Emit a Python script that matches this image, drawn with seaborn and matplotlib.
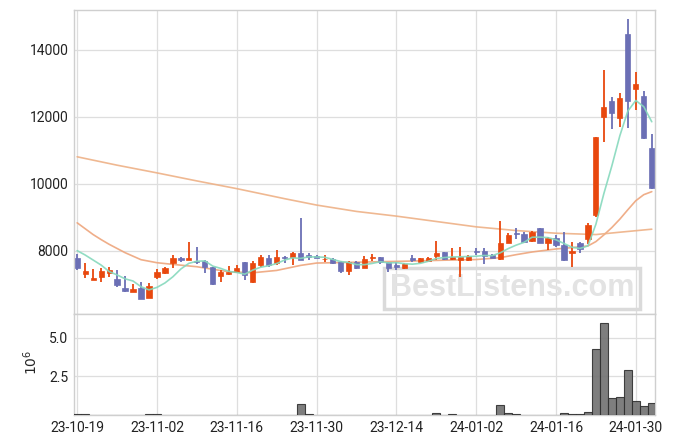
import numpy as np
import pandas as pd
import matplotlib
matplotlib.use("Agg")
import matplotlib.pyplot as plt
import seaborn as sns

# daily OHLC (KRW), 73 trading days 2023-10-19 .. 2024-02-01
opens = [7800, 7310, 7130, 7220, 7330, 7160, 6900, 6770, 6900, 6590,
         7220, 7330, 7630, 7800, 7720, 7700, 7700, 7510, 7260, 7320,
         7380, 7660, 7080, 7580, 7800, 7630, 7830, 7810, 7930, 7880,
         7850, 7750, 7760, 7660, 7410, 7660, 7500, 7780, 7820, 7660,
         7580, 7480, 7790, 7680, 7700, 7850, 7960, 7750, 7730, 7730,
         8010, 8000, 7880, 7750, 8250, 8530, 8510, 8300, 8680, 8230,
         8400, 8190, 7950, 8240, 8360, 9080, 12010, 12480, 11980, 14480,
         12840, 12630, 11070]
highs = [7910, 7630, 7450, 7500, 7530, 7430, 7240, 7010, 7080, 7050,
         7450, 7530, 7880, 7830, 8260, 8110, 7720, 7530, 7430, 7560,
         7580, 7660, 7710, 7880, 7880, 8030, 7860, 7980, 8980, 7950,
         7870, 7880, 7790, 7700, 7700, 7690, 7860, 7910, 7830, 7660,
         7680, 7640, 7880, 7790, 7830, 8310, 7980, 8080, 8130, 7880,
         8100, 8080, 7900, 8880, 8530, 8680, 8560, 8600, 8700, 8430,
         8470, 8580, 8260, 8260, 8830, 11410, 13400, 12590, 12710, 14920,
         13350, 12780, 11480]
lows = [7430, 7190, 7130, 7070, 7230, 6920, 6790, 6770, 6560, 6590,
        7160, 7310, 7480, 7680, 7720, 7600, 7350, 6990, 7070, 7280,
        7330, 7130, 7040, 7530, 7530, 7580, 7630, 7580, 7730, 7730,
        7790, 7660, 7610, 7350, 7280, 7460, 7480, 7700, 7600, 7380,
        7430, 7460, 7660, 7640, 7690, 7730, 7720, 7740, 7230, 7700,
        7880, 7600, 7780, 7730, 8230, 8360, 8250, 8260, 8230, 8030,
        8130, 7710, 7530, 7950, 8200, 9020, 11260, 11630, 11710, 11680,
        12210, 11330, 9840]
closes = [7500, 7400, 7200, 7410, 7430, 6990, 6820, 6870, 6560, 6960,
          7360, 7480, 7800, 7720, 7800, 7670, 7530, 7020, 7380, 7360,
          7500, 7280, 7630, 7810, 7580, 7830, 7800, 7950, 7730, 7820,
          7800, 7770, 7630, 7410, 7680, 7480, 7760, 7820, 7660, 7500,
          7520, 7610, 7740, 7790, 7800, 7940, 7750, 7830, 7810, 7850,
          7980, 7860, 7800, 8230, 8480, 8500, 8280, 8560, 8250, 8400,
          8180, 7730, 8000, 8070, 8780, 11410, 12310, 12130, 12560, 12460,
          12990, 11380, 9890]
# closes of the 4 sessions before the window (for the 5-day average)
prev_closes = [8050, 7950, 8160, 8390]

# volume, millions of shares
volume = [0.04, 0.04, 0.01, 0.01, 0.01, 0.01, 0.01, 0.01, 0.01, 0.04,
          0.04, 0.01, 0.03, 0.01, 0.03, 0.01, 0.01, 0.03, 0.01, 0.01,
          0.01, 0.01, 0.03, 0.01, 0.01, 0.01, 0.01, 0.01, 0.69, 0.04,
          0.01, 0.01, 0.01, 0.01, 0.01, 0.01, 0.01, 0.01, 0.01, 0.01,
          0.01, 0.01, 0.01, 0.01, 0.01, 0.11, 0.01, 0.04, 0.01, 0.01,
          0.01, 0.01, 0.01, 0.63, 0.11, 0.04, 0.01, 0.01, 0.03, 0.01,
          0.01, 0.11, 0.04, 0.04, 0.17, 4.24, 5.93, 1.08, 1.14, 2.89,
          0.91, 0.58, 0.75]

# longer moving averages (session index, value)
ma20_idx = [0, 2, 3, 4, 6, 8, 10, 12, 15, 19, 22, 25, 28, 30, 34, 38, 42, 46,
            50, 53, 55, 57, 60, 62, 64, 65, 66, 67, 68, 69, 70, 71, 72]
ma20_val = [8840, 8490, 8340, 8200, 7950, 7740, 7650, 7600, 7530, 7380, 7350,
            7420, 7570, 7640, 7660, 7680, 7700, 7725, 7745, 7800, 7890, 7970,
            8060, 8100, 8150, 8280, 8480, 8700, 8950, 9230, 9500, 9680, 9770]
ma120_idx = [0, 5, 10, 15, 20, 26, 30, 35, 40, 45, 50, 55, 60, 65, 68, 72]
ma120_val = [10810, 10560, 10330, 10090, 9860, 9560, 9370, 9180, 9040, 8880,
             8720, 8610, 8530, 8490, 8560, 8650]

tick_labels = ["23-10-19", "23-11-02", "23-11-16", "23-11-30",
               "23-12-14", "24-01-02", "24-01-16", "24-01-30"]

UP = "#e8480e"
DOWN = "#6b6fb5"

sns.set_theme(style="whitegrid")
plt.rcParams["font.family"] = ["Roboto", "DejaVu Sans"]

idx = np.arange(len(closes))
o = np.array(opens, dtype=float)
c = np.array(closes, dtype=float)
cols = [UP if cc >= oo else DOWN for oo, cc in zip(o, c)]

fig = plt.figure(figsize=(6.75, 4.44), dpi=100)
ax = fig.add_axes([0.1096, 0.2928, 0.8607, 0.6847])
axv = fig.add_axes([0.1096, 0.0653, 0.8607, 0.2275], sharex=ax)

# candles
ax.vlines(idx, lows, highs, colors=cols, linewidth=1.3, zorder=3)
body = np.maximum(np.abs(c - o), 25)
ax.bar(idx, body, bottom=np.minimum(o, c), width=0.65, color=cols,
       edgecolor=cols, linewidth=0.5, zorder=4)

# moving averages
ma5 = pd.Series(prev_closes + closes).rolling(5).mean().to_numpy()[len(prev_closes):]
sns.lineplot(x=idx, y=ma5, ax=ax, color="#86d9bd", linewidth=1.2, alpha=0.9, zorder=5)
sns.lineplot(x=ma20_idx, y=ma20_val, ax=ax, color="#eea57c", linewidth=1.2, alpha=0.9, zorder=2)
sns.lineplot(x=ma120_idx, y=ma120_val, ax=ax, color="#eeb186", linewidth=1.2, alpha=0.9, zorder=2)

ax.text(0.754, 0.085, "BestListens.com", transform=ax.transAxes,
        ha="center", va="center", fontsize=22, fontweight="bold",
        family="Liberation Sans", color="#e3e3e3", zorder=1,
        bbox=dict(boxstyle="square,pad=0.18", fc="none", ec="#dadada", lw=2.5))

ax.set_ylim(6120, 15190)
ax.set_yticks([8000, 10000, 12000, 14000])
ax.set_xlim(-0.4, 72.4)
ax.set_xticks(range(0, 73, 10))
ax.tick_params(axis="x", labelbottom=False)

# volume
sns.barplot(x=idx, y=volume, ax=axv, native_scale=True, width=1.0,
            color="#707070", saturation=1, edgecolor="#303030", linewidth=0.8,
            alpha=0.9, zorder=3)
axv.set_ylim(0, 6.53)
axv.set_yticks([2.5, 5.0])
axv.set_yticklabels(["2.5", "5.0"])
axv.set_xlim(-0.4, 72.4)
axv.set_xticks(range(0, 73, 10))
axv.set_xticklabels(tick_labels)
axv.set_ylabel("$10^6$", fontsize=10)
axv.yaxis.set_label_coords(-0.058, 0.52)
axv.set_xlabel("")

for a in (ax, axv):
    a.grid(True, color="#dedede", linewidth=0.9)
    a.set_axisbelow(True)
    a.tick_params(length=0, labelsize=10, labelcolor="#222222", pad=4)
    for s in a.spines.values():
        s.set_color("#cfcfcf")
        s.set_linewidth(1.0)

fig.savefig("out.png", dpi=100)
